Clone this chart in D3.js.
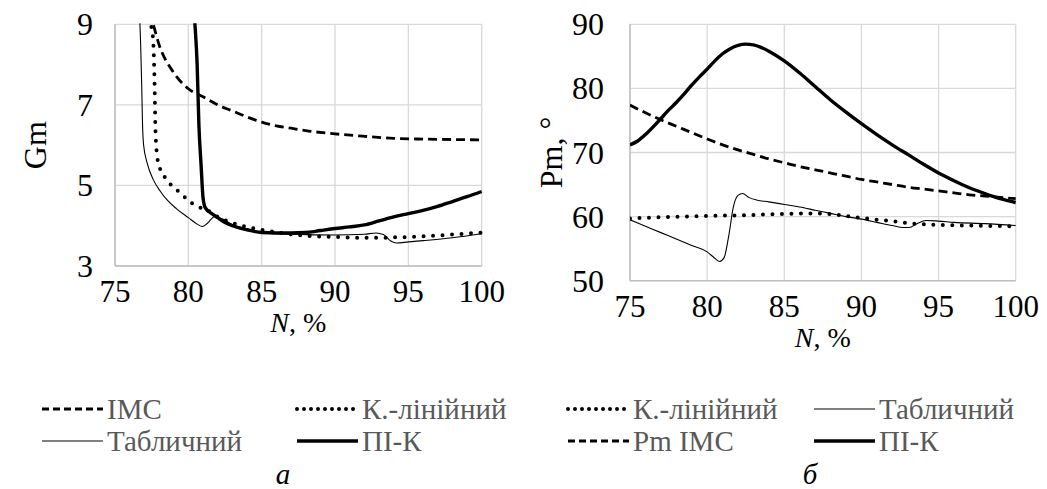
<!DOCTYPE html>
<html>
<head>
<meta charset="utf-8">
<script src="https://cdn.jsdelivr.net/npm/d3@7"></script>
<style>
  body { margin: 0; background: #fff; }
</style>
</head>
<body>
<svg id="chart" width="1047" height="489"></svg>
<script>
var FONT = "Liberation Serif";

// x ticks (N, %) shared by both panels
var xTicks = [75, 80, 85, 90, 95, 100];
var gmTicks = [3, 5, 7, 9];
var pmTicks = [50, 60, 70, 80, 90];

// panel a: Gm vs N
var gmImc = [[77.3, 9.3], [77.6, 9.0], [78, 8.5], [79, 7.8], [80, 7.4], [81, 7.2], [82, 7.0], [83, 6.85], [84, 6.7],
  [85, 6.57], [86, 6.48], [87, 6.42], [88, 6.36], [90, 6.28], [92, 6.22], [94, 6.17], [96, 6.15], [98, 6.14], [100, 6.13]];
var gmLin = [[77.3, 9.4], [77.45, 9.0], [77.6, 8.6], [77.7, 7.5], [77.75, 6.5], [77.85, 5.8], [78.0, 5.5], [78.4, 5.2],
  [79, 4.95], [79.5, 4.8], [80, 4.62], [80.7, 4.47], [81.3, 4.38], [82, 4.22], [83, 4.07], [84, 3.97], [85, 3.9],
  [86, 3.84], [87, 3.79], [88, 3.75], [89, 3.73], [90, 3.72], [92, 3.70], [93, 3.70], [94, 3.71], [95, 3.72],
  [96, 3.74], [98, 3.78], [100, 3.83]];
var gmTab = [[76.65, 9.5], [76.75, 8.5], [76.82, 7.5], [76.87, 6.6], [76.95, 6.0], [77.2, 5.55], [77.6, 5.15],
  [78.1, 4.85], [78.6, 4.62], [79.2, 4.42], [80.0, 4.2], [80.6, 4.04], [80.95, 3.98], [81.3, 4.06], [81.8, 4.23],
  [82.3, 4.17], [83, 4.03], [84, 3.92], [85, 3.82], [86, 3.8], [88, 3.78], [90, 3.77], [92, 3.79], [92.8, 3.82],
  [93.3, 3.78], [93.8, 3.62], [94.2, 3.57], [95, 3.6], [96, 3.63], [98, 3.7], [100, 3.8]];
var gmPik = [[80.35, 9.5], [80.45, 9.0], [80.6, 8.0], [80.72, 6.5], [80.87, 5.5], [81.0, 4.7], [81.15, 4.45], [81.6, 4.3],
  [82, 4.2], [82.5, 4.08], [83, 4.0], [84, 3.9], [85, 3.83], [86, 3.82], [87, 3.82], [88, 3.83], [89, 3.88], [90, 3.93],
  [91, 3.97], [92, 4.02], [93, 4.12], [94, 4.22], [95, 4.3], [96, 4.38], [97, 4.48], [98, 4.6], [99, 4.72], [100, 4.85]];

// panel б: Pm vs N
var pmImc = [[75, 77.4], [76, 76.2], [77, 75.1], [78, 74.1], [79, 73.1], [80, 72.1], [81, 71.2], [82, 70.4], [83, 69.7],
  [84, 69.0], [85, 68.4], [86, 67.8], [87, 67.3], [88, 66.8], [89, 66.3], [90, 65.8], [91, 65.4], [92, 65.0],
  [93, 64.6], [94, 64.3], [95, 64.0], [96, 63.7], [97, 63.4], [98, 63.2], [99, 63.0], [100, 62.8]];
var pmLin = [[75, 59.7], [77, 59.9], [80, 60.1], [82, 60.2], [85, 60.4], [87, 60.5], [88, 60.4], [89, 60.1], [90, 59.8],
  [91, 59.5], [92, 59.3], [93, 59.0], [94, 58.8], [95, 58.7], [97, 58.6], [100, 58.5]];
var pmTab = [[75, 59.5], [76, 58.5], [77, 57.5], [78, 56.5], [79, 55.5], [80, 54.5], [80.4, 53.7], [80.8, 53.0],
  [81.1, 53.6], [81.4, 57], [81.7, 61.5], [82.0, 63.3], [82.3, 63.6], [82.7, 63.0], [83.2, 62.6], [84, 62.3],
  [85, 61.9], [86, 61.5], [87, 61.0], [88, 60.5], [89, 60.0], [90, 59.6], [91, 59.1], [92, 58.6], [92.7, 58.3],
  [93.1, 58.3], [93.6, 58.9], [94.2, 59.4], [95, 59.3], [96, 59.1], [98, 58.9], [100, 58.6]];
var pmPik = [[75, 71.2], [75.5, 71.8], [76, 72.8], [76.5, 74.0], [77, 75.3], [77.5, 76.6], [78, 77.8], [78.5, 79.1],
  [79, 80.5], [79.5, 81.8], [80, 83.0], [80.5, 84.3], [81, 85.4], [81.5, 86.2], [82, 86.7], [82.5, 86.9], [83, 86.8],
  [83.5, 86.4], [84, 85.8], [85, 84.3], [86, 82.4], [87, 80.3], [88, 78.2], [89, 76.3], [90, 74.5], [91, 72.8],
  [92, 71.2], [93, 69.7], [94, 68.2], [95, 66.8], [96, 65.6], [97, 64.5], [98, 63.6], [99, 62.8], [100, 62.2]];

// line styles
var styles = {
  dash: { w: 2.8, dash: "9,5", cap: "butt" },
  dot: { w: 4, dash: "0,9.5", cap: "round" },
  thin: { w: 1.1, dash: null, cap: "butt" },
  thick: { w: 3.4, dash: null, cap: "butt" }
};

var svg = d3.select("#chart");

function drawPanel(opt) {
  var x = d3.scaleLinear().domain([75, 100]).range([opt.left, opt.right]);
  var y = d3.scaleLinear().domain(opt.yDomain).range([opt.bottom, opt.top]);
  var g = svg.append("g");

  // grid
  g.selectAll(".vg").data(xTicks).enter().append("line")
    .attr("x1", d => x(d)).attr("x2", d => x(d))
    .attr("y1", opt.top).attr("y2", opt.bottom)
    .attr("stroke", "#d9d9d9").attr("stroke-width", 1.3);
  g.selectAll(".hg").data(opt.yTicks).enter().append("line")
    .attr("x1", opt.left).attr("x2", opt.right)
    .attr("y1", d => y(d)).attr("y2", d => y(d))
    .attr("stroke", "#d9d9d9").attr("stroke-width", 1.3);
  // axis lines
  g.append("line").attr("x1", opt.left).attr("x2", opt.right).attr("y1", opt.bottom).attr("y2", opt.bottom)
    .attr("stroke", "#bfbfbf").attr("stroke-width", 1.5);
  g.append("line").attr("x1", opt.left).attr("x2", opt.left).attr("y1", opt.top).attr("y2", opt.bottom)
    .attr("stroke", "#bfbfbf").attr("stroke-width", 1.5);

  // tick labels
  g.selectAll(".xt").data(xTicks).enter().append("text")
    .attr("x", d => x(d)).attr("y", opt.bottom + 36)
    .attr("font-family", FONT)
    .attr("text-anchor", "middle").attr("font-size", 31).attr("fill", "#000")
    .text(d => d);
  g.selectAll(".yt").data(opt.yTicks).enter().append("text")
    .attr("x", opt.left - opt.yLabelGap).attr("y", d => y(d) + 11)
    .attr("font-family", FONT)
    .attr("text-anchor", "end").attr("font-size", 32).attr("fill", "#000")
    .text(d => d);

  // axis titles
  var xt = g.append("text").attr("x", (opt.left + opt.right) / 2).attr("y", opt.bottom + 66)
    .attr("font-family", FONT)
    .attr("text-anchor", "middle").attr("font-size", 28).attr("fill", "#000");
  xt.append("tspan").attr("font-style", "italic").text("N");
  xt.append("tspan").text(", %");
  g.append("text")
    .attr("transform", "translate(" + opt.yTitleX + "," + ((opt.top + opt.bottom) / 2) + ") rotate(-90)")
    .attr("font-family", FONT)
    .attr("text-anchor", "middle").attr("font-size", 32).attr("fill", "#000")
    .text(opt.yTitle);

  // clip + series
  var clipId = "clip" + opt.left;
  svg.append("clipPath").attr("id", clipId).append("rect")
    .attr("x", opt.left).attr("y", opt.top - 1)
    .attr("width", opt.right - opt.left + 2).attr("height", opt.bottom - opt.top + 1);
  var line = d3.line().x(d => x(d[0])).y(d => y(d[1])).curve(d3.curveMonotoneX);
  var sg = g.append("g").attr("clip-path", "url(#" + clipId + ")");
  opt.series.forEach(function(s) {
    var st = styles[s.style];
    sg.append("path").datum(s.data)
      .attr("fill", "none").attr("stroke", "#000")
      .attr("stroke-width", st.w)
      .attr("stroke-dasharray", st.dash)
      .attr("stroke-linecap", st.cap)
      .attr("stroke-linejoin", "round")
      .attr("d", line);
  });

  // legend
  opt.legend.forEach(function(item) {
    var st = styles[item.style];
    g.append("line")
      .attr("x1", item.x).attr("x2", item.x + 61)
      .attr("y1", item.y).attr("y2", item.y)
      .attr("stroke", "#000").attr("stroke-width", st.w)
      .attr("stroke-dasharray", item.style == "dot" ? "0,7" : (item.style == "dash" ? "7,4" : null))
      .attr("stroke-linecap", st.cap);
    g.append("text")
      .attr("x", item.x + 65).attr("y", item.y + 10)
      .attr("font-family", FONT)
      .attr("font-size", 29).attr("fill", "#595959")
      .text(item.label);
  });

  g.append("text")
    .attr("x", opt.captionX).attr("y", 484)
    .attr("font-family", FONT)
    .attr("text-anchor", "middle").attr("font-size", 29).attr("font-style", "italic").attr("fill", "#000")
    .text(opt.caption);
}

drawPanel({
  left: 115, right: 481.7, top: 24.3, bottom: 266,
  yDomain: [3, 9], yTicks: gmTicks, yLabelGap: 22, yTitle: "Gm", yTitleX: 46,
  series: [
    { data: gmImc, style: "dash" },
    { data: gmLin, style: "dot" },
    { data: gmTab, style: "thin" },
    { data: gmPik, style: "thick" }
  ],
  legend: [
    { x: 42, y: 409, style: "dash", label: "IMC" },
    { x: 297, y: 409, style: "dot", label: "К.-лінійний" },
    { x: 42, y: 441, style: "thin", label: "Табличний" },
    { x: 297, y: 441, style: "thick", label: "ПІ-К" }
  ],
  caption: "а", captionX: 283
});

drawPanel({
  left: 630, right: 1015.7, top: 24.3, bottom: 280.7,
  yDomain: [50, 90], yTicks: pmTicks, yLabelGap: 26, yTitle: "Pm, °", yTitleX: 562,
  series: [
    { data: pmImc, style: "dash" },
    { data: pmLin, style: "dot" },
    { data: pmTab, style: "thin" },
    { data: pmPik, style: "thick" }
  ],
  legend: [
    { x: 568, y: 409, style: "dot", label: "К.-лінійний" },
    { x: 814, y: 409, style: "thin", label: "Табличний" },
    { x: 568, y: 441, style: "dash", label: "Pm IMC" },
    { x: 814, y: 441, style: "thick", label: "ПІ-К" }
  ],
  caption: "б", captionX: 810
});
</script>
</body>
</html>
